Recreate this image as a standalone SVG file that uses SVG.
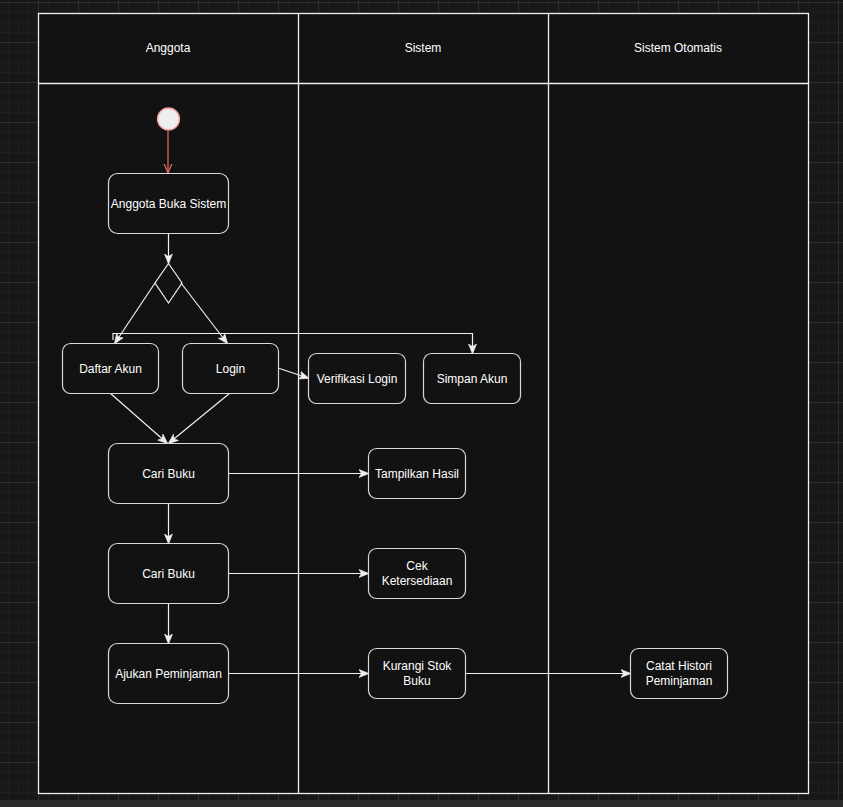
<svg xmlns="http://www.w3.org/2000/svg" width="843" height="807" viewBox="0 0 843 807">
  <style>
    .lane { fill: #121212; stroke: #f0f0f0; stroke-width: 1.3; }
    .node { fill: #121212; stroke: #d8d8d8; stroke-width: 1.2; }
    .lbl { font-family: "Liberation Sans", Arial, sans-serif; font-size: 12px; fill: #ffffff; text-anchor: middle; dominant-baseline: central; }
    .edge { fill: none; stroke: #f0f0f0; stroke-width: 1.2; }
    .start-edge { fill: none; stroke: #ea6b66; stroke-width: 1.2; }
  </style>
  <defs>
    <pattern id="grid" x="38" y="2" width="40" height="40" patternUnits="userSpaceOnUse">
      <rect width="40" height="40" fill="#181818"/>
      <g fill="#1f1f1f">
        <rect x="10" y="0" width="1" height="40"/>
        <rect x="20" y="0" width="1" height="40"/>
        <rect x="30" y="0" width="1" height="40"/>
        <rect x="0" y="10" width="40" height="1"/>
        <rect x="0" y="20" width="40" height="1"/>
        <rect x="0" y="30" width="40" height="1"/>
      </g>
      <g fill="#2e2e2e">
        <rect x="0" y="0" width="1" height="40"/>
        <rect x="0" y="0" width="40" height="1"/>
      </g>
    </pattern>
    <marker id="arrow" viewBox="0 0 10 10" refX="9" refY="5" markerWidth="10" markerHeight="10" markerUnits="userSpaceOnUse" orient="auto">
      <path d="M0,1 L10,5 L0,9 L2.5,5 Z" fill="#f0f0f0" stroke="#f0f0f0" stroke-width="0.6"/>
    </marker>
    <marker id="open-red" viewBox="0 0 10 10" refX="9.5" refY="5" markerWidth="10" markerHeight="10" markerUnits="userSpaceOnUse" orient="auto">
      <path d="M0,1 L9.5,5 L0,9" fill="none" stroke="#ea6b66" stroke-width="1.2"/>
    </marker>
  </defs>

  <!-- canvas -->
  <rect width="843" height="807" fill="url(#grid)"/>
  <rect x="0" y="800" width="843" height="7" fill="#2a2a2a"/>

  <!-- swimlanes -->
  <g id="pool">
    <rect class="lane" x="38.5" y="13.5" width="770" height="780"/>
    <line class="lane" x1="38.5" y1="83.5" x2="808.5" y2="83.5"/>
    <line class="lane" x1="298.5" y1="13.5" x2="298.5" y2="793.5"/>
    <line class="lane" x1="548.5" y1="13.5" x2="548.5" y2="793.5"/>
    <text class="lbl" x="168" y="48">Anggota</text>
    <text class="lbl" x="423" y="48">Sistem</text>
    <text class="lbl" x="678" y="48">Sistem Otomatis</text>
  </g>

  <!-- connectors -->
  <g id="connectors">
    <line class="start-edge" x1="168" y1="131" x2="168" y2="173" marker-end="url(#open-red)"/>
    <line class="edge" x1="168.5" y1="233" x2="168.5" y2="263" marker-end="url(#arrow)"/>
    <line class="edge" x1="155" y1="283" x2="115" y2="343" marker-end="url(#arrow)"/>
    <line class="edge" x1="181" y1="283" x2="227" y2="343" marker-end="url(#arrow)"/>
    <polyline class="edge" points="113,340 113,333.5 472.5,333.5 472.5,353" marker-end="url(#arrow)"/>
    <line class="edge" x1="278" y1="368" x2="308" y2="378" marker-end="url(#arrow)"/>
    <line class="edge" x1="110" y1="393" x2="167" y2="443" marker-end="url(#arrow)"/>
    <line class="edge" x1="230" y1="393" x2="169" y2="443" marker-end="url(#arrow)"/>
    <line class="edge" x1="228" y1="473.5" x2="368" y2="473.5" marker-end="url(#arrow)"/>
    <line class="edge" x1="168.5" y1="503" x2="168.5" y2="543" marker-end="url(#arrow)"/>
    <line class="edge" x1="228" y1="573.5" x2="368" y2="573.5" marker-end="url(#arrow)"/>
    <line class="edge" x1="168.5" y1="603" x2="168.5" y2="643" marker-end="url(#arrow)"/>
    <line class="edge" x1="228" y1="673.5" x2="368" y2="673.5" marker-end="url(#arrow)"/>
    <line class="edge" x1="465" y1="673.5" x2="630" y2="673.5" marker-end="url(#arrow)"/>
  </g>

  <!-- start -->
  <g id="start">
    <circle cx="168.5" cy="119" r="11" fill="#eeeeee" stroke="#f19c99" stroke-width="1.3"/>
  </g>

  <g id="buka-sistem">
    <rect class="node" x="108.5" y="173.5" width="120" height="60" rx="9"/>
    <text class="lbl" x="168.5" y="203.5">Anggota Buka Sistem</text>
  </g>

  <g id="decision">
    <path class="edge" d="M168.5,263.5 L155,283 L168.5,303 L182,283 Z" fill="#121212"/>
  </g>

  <g id="daftar-akun">
    <rect class="node" x="62.5" y="343.5" width="96" height="50" rx="8"/>
    <text class="lbl" x="110.5" y="368.5">Daftar Akun</text>
  </g>

  <g id="login">
    <rect class="node" x="182.5" y="343.5" width="96" height="50" rx="8"/>
    <text class="lbl" x="230.5" y="368.5">Login</text>
  </g>

  <g id="verifikasi-login">
    <rect class="node" x="308.5" y="353.5" width="97" height="50" rx="8"/>
    <text class="lbl" x="357" y="378.5">Verifikasi Login</text>
  </g>

  <g id="simpan-akun">
    <rect class="node" x="423.5" y="353.5" width="97" height="50" rx="8"/>
    <text class="lbl" x="472" y="378.5">Simpan Akun</text>
  </g>

  <g id="cari-buku-1">
    <rect class="node" x="108.5" y="443.5" width="120" height="60" rx="9"/>
    <text class="lbl" x="168.5" y="473.5">Cari Buku</text>
  </g>

  <g id="tampilkan-hasil">
    <rect class="node" x="368.5" y="448.5" width="97" height="50" rx="8"/>
    <text class="lbl" x="417" y="473.5">Tampilkan Hasil</text>
  </g>

  <g id="cari-buku-2">
    <rect class="node" x="108.5" y="543.5" width="120" height="60" rx="9"/>
    <text class="lbl" x="168.5" y="573.5">Cari Buku</text>
  </g>

  <g id="cek-ketersediaan">
    <rect class="node" x="368.5" y="548.5" width="97" height="50" rx="8"/>
    <text class="lbl" x="417" y="566">Cek</text>
    <text class="lbl" x="417" y="581">Ketersediaan</text>
  </g>

  <g id="ajukan-peminjaman">
    <rect class="node" x="108.5" y="643.5" width="120" height="60" rx="9"/>
    <text class="lbl" x="168.5" y="673.5">Ajukan Peminjaman</text>
  </g>

  <g id="kurangi-stok">
    <rect class="node" x="368.5" y="648.5" width="97" height="50" rx="8"/>
    <text class="lbl" x="417" y="666">Kurangi Stok</text>
    <text class="lbl" x="417" y="681">Buku</text>
  </g>

  <g id="catat-histori">
    <rect class="node" x="630.5" y="648.5" width="97" height="50" rx="8"/>
    <text class="lbl" x="679" y="666">Catat Histori</text>
    <text class="lbl" x="679" y="681">Peminjaman</text>
  </g>
</svg>
